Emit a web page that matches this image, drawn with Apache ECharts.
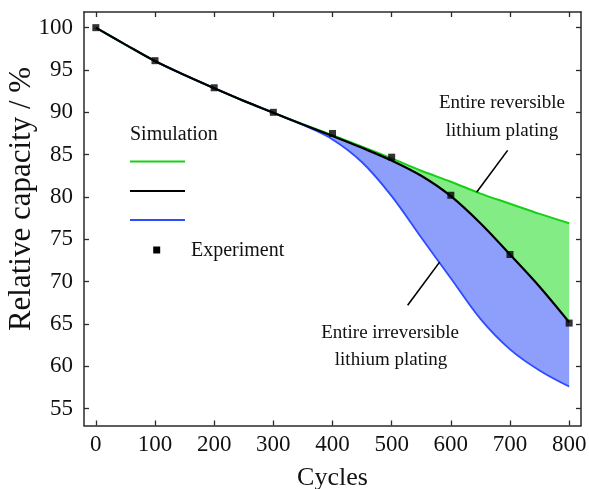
<!DOCTYPE html>
<html>
<head>
<meta charset="utf-8">
<script src="https://cdn.jsdelivr.net/npm/echarts@6/dist/echarts.min.js"></script>
<style>
  html, body { margin: 0; padding: 0; background: #fff; }
  #chart { width: 589px; height: 489px; }
</style>
</head>
<body>
<div id="chart"></div>
<script>
// Simulated capacity fade (every 50 cycles) for the three plating scenarios
const simCycles        = [0, 50, 100, 150, 200, 250, 300, 350, 400, 450, 500, 550, 600, 650, 700, 750, 800];
const simReversible    = [100, 98.0, 96.05, 94.4, 92.85, 91.35, 89.95, 88.6, 87.3, 85.95, 84.55, 83.1, 81.8, 80.4, 79.2, 78.0, 76.9];
const simMixed         = [100, 98.0, 96.05, 94.4, 92.85, 91.35, 89.95, 88.55, 87.2, 85.8, 84.3, 82.5, 80.1, 76.9, 73.2, 69.4, 65.2];
const simIrreversible  = [100, 98.0, 96.05, 94.4, 92.85, 91.35, 89.95, 88.5, 86.8, 84.1, 80.1, 75.2, 70.4, 65.6, 62.0, 59.5, 57.6];

// Measured capacity
const expCycles   = [0, 100, 200, 300, 400, 500, 600, 700, 800];
const expCapacity = [100, 96.1, 92.9, 90.0, 87.5, 84.7, 80.2, 73.2, 65.1];

// Axis ticks
const xTicks = [0, 100, 200, 300, 400, 500, 600, 700, 800];
const yTicks = [55, 60, 65, 70, 75, 80, 85, 90, 95, 100];

// Annotation leader lines (cycle, capacity)
const reversibleLeader   = [[696, 85.5], [643.6, 80.55]];
const irreversibleLeader = [[581, 72.3], [527, 67.2]];

const serif = '"Liberation Serif", "Times New Roman", serif';
const ink = '#111';
const frame = '#2a2a2a';
const GREEN = '#16cf16', GREEN_FILL = '#84ec84';
const BLUE = '#2d4cff', BLUE_FILL = '#8e9efb';
const SMOOTH = 0.35;

const pts = (xs, ys) => xs.map((x, i) => [x, ys[i]]);
// Rows are [capacity, cycle] so the stack runs along the capacity axis
const stackRows = (ys) => simCycles.map((x, i) => [ys[i], x]);
const gap = (upper, lower) => upper.map((v, i) => Math.max(0, +(v - lower[i]).toFixed(4)));

// Shaded bands between the simulated curves, built by stacking on the lowest curve
function stacked(values, fill) {
  return {
    type: 'line', data: stackRows(values), encode: { x: 1, y: 0 },
    stack: 'bands', stackStrategy: 'all',
    smooth: SMOOTH, symbol: 'none',
    lineStyle: { width: 0, opacity: 0 },
    areaStyle: fill ? { color: fill, opacity: 1 } : undefined,
    silent: true, z: 2
  };
}
function curve(values, color, width) {
  return {
    type: 'line', data: pts(simCycles, values), smooth: SMOOTH, symbol: 'none',
    lineStyle: { color: color, width: width }, silent: true, z: 3
  };
}
function leader(points) {
  return {
    type: 'line', data: points, symbol: 'none',
    lineStyle: { color: '#000', width: 1.6 }, silent: true, z: 4
  };
}

const tickStyle = { color: frame, width: 1.3 };
function xAxisDef(position, showLabels) {
  return {
    type: 'value', min: -20, max: 820, position: position,
    axisLine: { show: true, onZero: false, lineStyle: { color: frame, width: 1.5 } },
    axisTick: { show: true, inside: true, length: 5, customValues: xTicks, lineStyle: tickStyle },
    axisLabel: { show: showLabels, customValues: xTicks, margin: 8, color: ink, fontFamily: serif, fontSize: 23 },
    splitLine: { show: false },
    name: showLabels ? 'Cycles' : '', nameLocation: 'middle', nameGap: 40,
    nameTextStyle: { color: ink, fontFamily: serif, fontSize: 26 },
    z: 10
  };
}
function yAxisDef(position, showLabels) {
  return {
    type: 'value', min: 53, max: 101.85, position: position,
    axisLine: { show: true, onZero: false, lineStyle: { color: frame, width: 1.5 } },
    axisTick: { show: true, inside: true, length: 5, customValues: yTicks, lineStyle: tickStyle },
    axisLabel: { show: showLabels, customValues: yTicks, margin: 11, color: ink, fontFamily: serif, fontSize: 23 },
    splitLine: { show: false },
    z: 10
  };
}

function label(text, x, y, size, align) {
  return {
    type: 'text', x: x, y: y, silent: true, z: 20,
    style: {
      text: text, fill: ink, fontFamily: serif, fontSize: size,
      align: align || 'center', verticalAlign: 'middle',
      textAlign: align || 'center', textVerticalAlign: 'middle'
    }
  };
}
function legendLine(y, color) {
  return {
    type: 'line', silent: true, z: 20,
    shape: { x1: 130, y1: y, x2: 185, y2: y },
    style: { stroke: color, lineWidth: 2 }
  };
}

const chart = echarts.init(document.getElementById('chart'), null, { renderer: 'canvas' });
chart.setOption({
  animation: false,
  backgroundColor: '#fff',
  grid: { left: 84, right: 8, top: 12, bottom: 63.5, containLabel: false, outerBoundsMode: 'none' },
  xAxis: [xAxisDef('bottom', true), xAxisDef('top', false)],
  yAxis: [yAxisDef('left', true), yAxisDef('right', false)],
  series: [
    stacked(simIrreversible, null),
    stacked(gap(simMixed, simIrreversible), BLUE_FILL),
    stacked(gap(simReversible, simMixed), GREEN_FILL),
    curve(simReversible, GREEN, 2),
    curve(simIrreversible, BLUE, 1.8),
    curve(simMixed, '#000', 2.2),
    leader(reversibleLeader),
    leader(irreversibleLeader),
    {
      type: 'scatter', data: pts(expCycles, expCapacity),
      symbol: 'rect', symbolSize: 7, itemStyle: { color: '#000' }, silent: true, z: 5
    }
  ],
  graphic: [
    Object.assign(label('Relative capacity / %', 22, 199, 31), { rotation: Math.PI / 2 }),
    label('Simulation', 130, 135, 20, 'left'),
    legendLine(161.5, GREEN),
    legendLine(191, '#000'),
    legendLine(220, BLUE),
    { type: 'rect', silent: true, z: 20, shape: { x: 153.2, y: 246.5, width: 7, height: 7 }, style: { fill: '#000' } },
    label('Experiment', 191, 251, 20, 'left'),
    label('Entire reversible', 502, 103, 19),
    label('lithium plating', 502, 131, 19),
    label('Entire irreversible', 390, 333, 19),
    label('lithium plating', 391, 360, 19)
  ]
});
</script>
</body>
</html>
